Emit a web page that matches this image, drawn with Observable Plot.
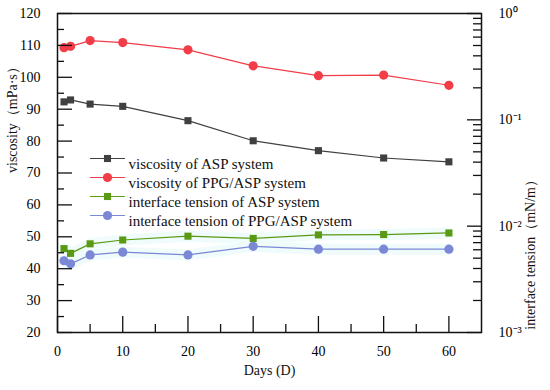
<!DOCTYPE html>
<html>
<head>
<meta charset="utf-8">
<script src="https://cdn.jsdelivr.net/npm/d3@7"></script>
<script src="https://cdn.jsdelivr.net/npm/@observablehq/plot@0.6"></script>
<style>
  body { margin: 0; background: #fff; }
</style>
</head>
<body>
<div id="chart"></div>
<script>
const days = [1, 2, 5, 10, 20, 30, 40, 50, 60];
const viscASP = [92.3, 92.9, 91.6, 90.9, 86.4, 80.1, 77.0, 74.7, 73.5];
const viscPPG = [109.3, 109.7, 111.5, 110.9, 108.6, 103.6, 100.5, 100.7, 97.5];
const tensionASP = [0.00615, 0.00555, 0.00682, 0.00741, 0.00805, 0.00767, 0.00828, 0.00834, 0.00863];
const tensionPPG = [0.00473, 0.00442, 0.00536, 0.00570, 0.00536, 0.00646, 0.00607, 0.00607, 0.00607];
const seriesNames = [
  "viscosity of ASP system",
  "viscosity of PPG/ASP system",
  "interface tension of ASP system",
  "interface tension of PPG/ASP system"
];
const colors = ["#404040", "#f23c48", "#5a9a12", "#7a88d6"];
const symbols = ["square", "circle", "square", "circle"];
const radii = [4, 4.6, 4, 4.6];
const leftMajorTicks = [20, 30, 40, 50, 60, 70, 80, 90, 100, 110, 120];
const leftMinorTicks = [25, 35, 45, 55, 65, 75, 85, 95, 105, 115];
const xMajorTicks = [0, 10, 20, 30, 40, 50, 60];
const xMinorTicks = [5, 15, 25, 35, 45, 55];
const rightTickExps = [-3, -2, -1, 0];
const rightTickLabels = ["10\u207B\u00B3", "10\u207B\u00B2", "10\u207B\u00B9", "10\u2070"];

// map log tension (1e-3 .. 1e0) onto the left viscosity axis (20 .. 120)
const yMin = 20, yMax = 120;
const tToY = t => yMin + (Math.log10(t) + 3) / 3 * (yMax - yMin);
const rows = (vals, s, conv) => days.map((d, i) => ({day: d, y: conv ? conv(vals[i]) : vals[i], s}));
const data = [rows(viscASP, 0), rows(viscPPG, 1), rows(tensionASP, 2, tToY), rows(tensionPPG, 3, tToY)];
const rightMajor = rightTickExps.map(e => tToY(Math.pow(10, e)));
const rightMinor = [];
for (let e = -3; e < 0; e++) for (let m = 2; m <= 9; m++) rightMinor.push(tToY(m * Math.pow(10, e)));

const W = 550, H = 390, ML = 57, MR = 69, MT = 13, MB = 58;
const PW = W - ML - MR, PH = H - MT - MB;
const FONT = "Liberation Serif";
const INK = "#111";
const seg = {draw(context, l) { context.moveTo(0, 0); context.lineTo(0, -l); }};

const seriesMarks = [];
for (const k of [2, 3]) seriesMarks.push(Plot.line(data[k], {x: "day", y: "y", stroke: "#f0fcfc", strokeWidth: 11}));
for (let k = 0; k < 4; k++) {
  seriesMarks.push(Plot.line(data[k], {x: "day", y: "y", stroke: colors[k], strokeWidth: 1.2}));
  seriesMarks.push(Plot.dot(data[k], {x: "day", y: "y", fill: colors[k], symbol: symbols[k], r: radii[k], stroke: "none"}));
}

// inward ticks drawn as short rules
const tickMarks = [
  Plot.ruleY(leftMajorTicks, {y: d => d, insetRight: PW - 15, stroke: INK, strokeWidth: 1.3}),
  Plot.ruleY(leftMinorTicks, {y: d => d, insetRight: PW - 7, stroke: INK, strokeWidth: 1.3}),
  Plot.ruleX(xMajorTicks, {x: d => d, insetTop: PH - 16, stroke: INK, strokeWidth: 1.3}),
  Plot.ruleX(xMinorTicks, {x: d => d, insetTop: PH - 8, stroke: INK, strokeWidth: 1.3}),
  Plot.ruleY(rightMajor, {y: d => d, insetLeft: PW - 14, stroke: INK, strokeWidth: 1.3}),
  Plot.ruleY(rightMinor, {y: d => d, insetLeft: PW - 8, stroke: INK, strokeWidth: 1.3})
];

const legendMarks = [];
seriesNames.forEach((name, i) => {
  const dy = 145 + i * 19;
  legendMarks.push(Plot.vector([name], {frameAnchor: "top-left", dx: 50, dy, length: 34, rotate: 90, anchor: "middle", shape: seg, stroke: colors[i], strokeWidth: 1.2}));
  legendMarks.push(Plot.dot([name], {frameAnchor: "top-left", dx: 50, dy, symbol: symbols[i], r: radii[i], fill: colors[i]}));
  legendMarks.push(Plot.text([name], {frameAnchor: "top-left", dx: 71, dy, text: d => d, textAnchor: "start", fontSize: 15, fontFamily: FONT, fill: INK}));
});

const chart = Plot.plot({
  width: W, height: H, marginLeft: ML, marginRight: MR, marginTop: MT, marginBottom: MB,
  style: {fontFamily: FONT, background: "#fff"},
  x: {domain: [0, 65]},
  y: {domain: [yMin, yMax]},
  marks: [
    ...seriesMarks,
    ...tickMarks,
    Plot.axisY({anchor: "left", ticks: leftMajorTicks, tickSize: 0, tickPadding: 17, fontSize: 14, fontFamily: FONT, label: null}),
    Plot.axisX({anchor: "bottom", ticks: xMajorTicks, tickSize: 0, tickPadding: 14, fontSize: 14, fontFamily: FONT, label: null}),
    Plot.axisY({anchor: "right", ticks: rightMajor, tickFormat: (d, i) => rightTickLabels[i], tickSize: 0, tickPadding: 17, fontSize: 14, fontFamily: FONT, label: null}),
    Plot.frame({stroke: INK, strokeWidth: 1.5}),
    Plot.text(["viscosity\uFF08mPa\u00B7s\uFF09"], {frameAnchor: "left", dx: -45, rotate: -90, fontSize: 14, fontFamily: FONT, fill: INK}),
    Plot.text(["interface tension\uFF08mN/m\uFF09"], {frameAnchor: "right", dx: 49, rotate: -90, fontSize: 14, fontFamily: FONT, fill: INK}),
    Plot.text(["Days (D)"], {frameAnchor: "bottom", dy: 42, fontSize: 14, fontFamily: FONT, fill: INK}),
    ...legendMarks
  ]
});
document.getElementById("chart").appendChild(chart);
</script>
</body>
</html>
